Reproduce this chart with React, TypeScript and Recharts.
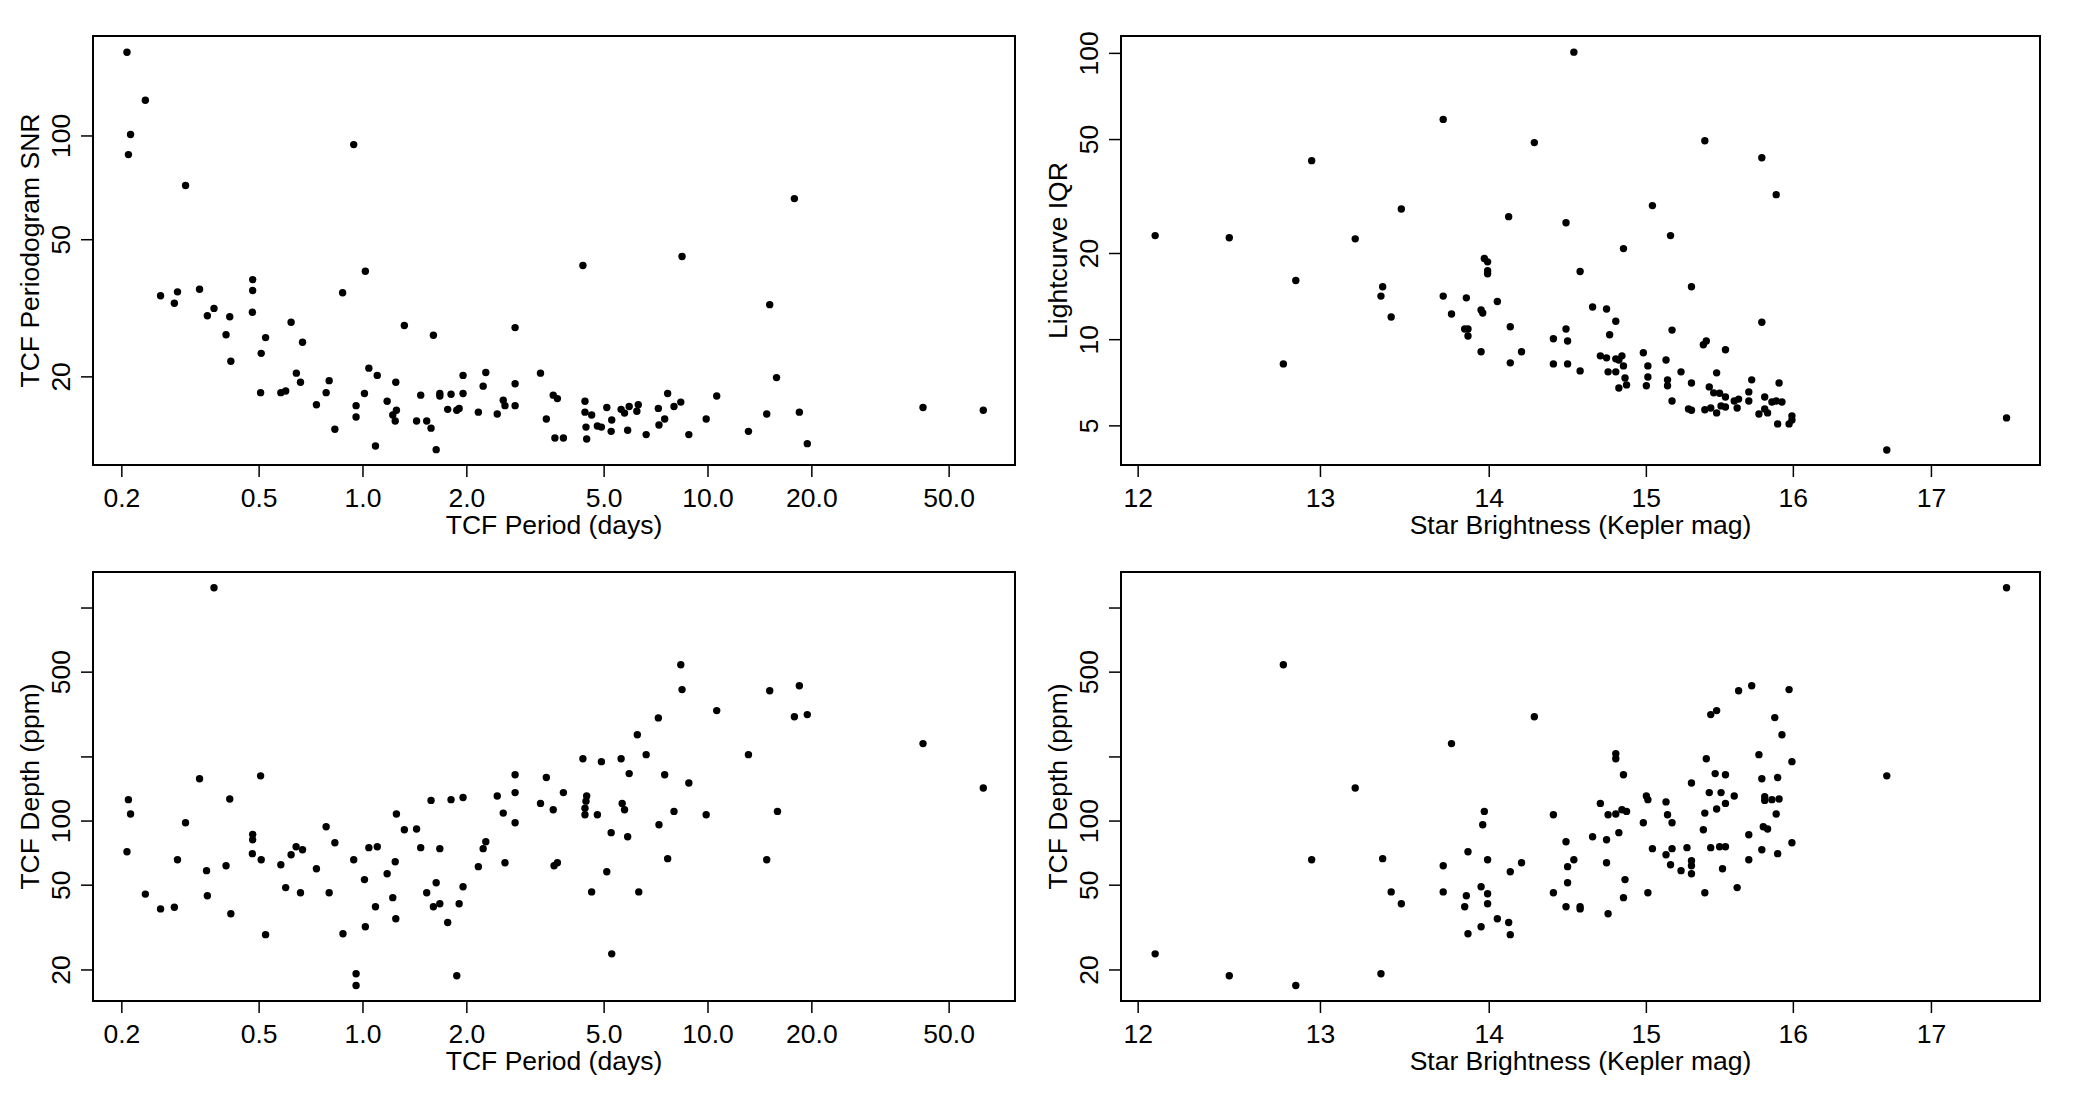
import React from "react";
import { ScatterChart, Scatter, XAxis, YAxis, ReferenceArea } from "recharts";

const FONT = '"Liberation Sans", Arial, Helvetica, sans-serif';
const FS = 26.5;

// [period (days), TCF periodogram SNR]
const snrByPeriod: [number, number][] = [
  [0.207, 175], [0.234, 127], [0.212, 101], [0.209, 88.3], [0.306, 71.8], [0.94, 94.4],
  [0.259, 34.4], [0.29, 35.3], [0.284, 32.7], [0.336, 35.9], [0.354, 30.1], [0.37, 31.6],
  [0.411, 29.9], [0.401, 26.5], [0.414, 22.2], [0.479, 38.3], [0.479, 35.6], [0.478, 30.8],
  [0.507, 23.4], [0.522, 26.0], [0.505, 18.0], [0.578, 18.0], [0.597, 18.2], [0.619, 28.8],
  [0.668, 25.2], [0.641, 20.5], [0.659, 19.3], [0.733, 16.6], [0.782, 18.0], [0.798, 19.5],
  [0.829, 14.1], [0.873, 35.1], [0.955, 16.5], [0.955, 15.3], [1.016, 40.5], [1.01, 17.9],
  [1.04, 21.2], [1.1, 20.2], [1.087, 12.6], [1.175, 17.0], [1.245, 19.3], [1.22, 15.5],
  [1.25, 16.0], [1.24, 14.9], [1.318, 28.2], [1.43, 14.9], [1.47, 17.7], [1.53, 14.9],
  [1.575, 14.2], [1.6, 26.4], [1.63, 12.3], [1.67, 17.9], [1.67, 17.6], [1.76, 16.1],
  [1.8, 17.8], [1.87, 16.0], [1.9, 16.2], [1.95, 20.2], [1.95, 17.9], [2.16, 15.8],
  [2.23, 18.8], [2.27, 20.6], [2.45, 15.6], [2.55, 17.1], [2.58, 16.5], [2.76, 27.8],
  [2.76, 19.1], [2.76, 16.5], [3.27, 20.5], [3.4, 15.1], [3.56, 17.7], [3.66, 17.3],
  [3.6, 13.3], [3.81, 13.3], [4.34, 42.1], [4.4, 17.0], [4.4, 15.8], [4.6, 15.5],
  [4.43, 14.3], [4.45, 13.2], [4.78, 14.4], [4.91, 14.3], [5.09, 16.3], [5.26, 15.0],
  [5.24, 13.9], [5.6, 16.1], [5.73, 15.7], [5.91, 16.4], [5.85, 14.0], [6.28, 16.6],
  [6.22, 15.9], [6.62, 13.6], [7.18, 16.2], [7.21, 14.5], [7.49, 15.1], [7.64, 17.9],
  [7.97, 16.4], [8.34, 16.9], [8.41, 44.7], [8.8, 13.6], [9.88, 15.1], [10.6, 17.6],
  [13.1, 13.9], [14.8, 15.6], [15.1, 32.4], [15.8, 19.9], [17.8, 65.8], [18.4, 15.8],
  [19.4, 12.8], [42.0, 16.3], [62.8, 16.0],
];

// [Kepler mag, lightcurve IQR]
const iqrByMag: [number, number][] = [
  [12.09, 23.1], [12.49, 22.7], [12.95, 42.2], [12.86, 16.1], [12.79, 8.23], [13.2, 22.5],
  [13.47, 28.6], [13.36, 15.3], [13.35, 14.2], [13.41, 12.0], [13.72, 58.8], [13.72, 14.2],
  [13.77, 12.3], [13.86, 14.0], [13.85, 10.9], [13.87, 10.9], [13.87, 10.3], [13.95, 9.07],
  [13.95, 12.7], [13.96, 12.4], [13.97, 19.2], [13.99, 18.7], [13.99, 17.4], [13.99, 17.0],
  [14.05, 13.6], [14.12, 26.9], [14.13, 11.1], [14.13, 8.3], [14.2, 9.07], [14.28, 48.8],
  [14.4, 10.07], [14.4, 8.23], [14.48, 25.6], [14.48, 10.9], [14.49, 9.9], [14.49, 8.23],
  [14.53, 101], [14.57, 7.78], [14.57, 17.3], [14.65, 13.0], [14.7, 8.78], [14.74, 12.8],
  [14.8, 11.6], [14.76, 10.4], [14.74, 8.64], [14.8, 8.57], [14.84, 8.78], [14.82, 8.49],
  [14.85, 8.1], [14.75, 7.72], [14.8, 7.72], [14.86, 7.35], [14.87, 6.95], [14.82, 6.78],
  [14.85, 20.8], [15.04, 29.4], [15.16, 23.1], [15.17, 10.8], [14.98, 9.0], [15.01, 8.1],
  [15.01, 7.41], [15.0, 6.9], [15.13, 8.49], [15.14, 7.24], [15.14, 6.9], [15.17, 6.11],
  [15.23, 7.72], [15.3, 15.3], [15.3, 7.06], [15.28, 5.73], [15.3, 5.67], [15.39, 49.5],
  [15.38, 9.6], [15.4, 9.9], [15.39, 5.69], [15.42, 6.84], [15.43, 5.77], [15.45, 6.52],
  [15.47, 7.66], [15.47, 5.55], [15.49, 6.5], [15.5, 5.87], [15.53, 6.31], [15.53, 5.82],
  [15.53, 9.22], [15.59, 6.11], [15.62, 6.2], [15.61, 5.77], [15.69, 6.57], [15.69, 6.11],
  [15.71, 7.24], [15.76, 5.5], [15.78, 43.2], [15.78, 11.5], [15.8, 6.31], [15.8, 5.73],
  [15.82, 5.55], [15.85, 6.06], [15.88, 32.1], [15.88, 6.11], [15.92, 6.06], [15.9, 7.06],
  [15.89, 5.08], [15.97, 5.08], [15.99, 5.24], [15.99, 5.42], [16.67, 4.12], [17.57, 5.33],
];

// [period (days), TCF depth (ppm)]
const depthByPeriod: [number, number][] = [
  [0.37, 1245], [0.209, 126], [0.212, 108], [0.207, 71.8], [0.234, 45.4], [0.259, 38.7],
  [0.284, 39.4], [0.29, 65.8], [0.306, 98.2], [0.336, 158], [0.352, 58.5], [0.354, 44.6],
  [0.401, 61.7], [0.411, 127], [0.414, 36.7], [0.479, 86.6], [0.479, 81.7], [0.478, 70.3],
  [0.507, 65.8], [0.505, 163], [0.522, 29.3], [0.578, 62.4], [0.597, 48.7], [0.619, 69.5],
  [0.64, 75.8], [0.668, 73.3], [0.659, 46.1], [0.733, 59.7], [0.782, 94.1], [0.798, 46.1],
  [0.829, 79.1], [0.875, 29.6], [0.94, 65.8], [0.955, 19.2], [0.955, 16.9], [1.01, 53.1],
  [1.016, 31.9], [1.04, 75.0], [1.1, 75.8], [1.087, 39.6], [1.175, 56.6], [1.24, 64.4],
  [1.22, 43.7], [1.245, 34.8], [1.25, 108], [1.318, 91.0], [1.43, 91.8], [1.47, 75.0],
  [1.53, 46.1], [1.575, 125], [1.6, 39.6], [1.63, 51.3], [1.67, 40.9], [1.67, 74.2],
  [1.76, 33.4], [1.8, 126], [1.87, 18.8], [1.9, 40.9], [1.95, 49.2], [1.95, 129],
  [2.16, 61.1], [2.23, 74.2], [2.27, 80.0], [2.45, 131], [2.55, 109], [2.58, 63.7],
  [2.76, 165], [2.76, 136], [2.76, 98.2], [3.27, 121], [3.4, 160], [3.56, 113],
  [3.58, 61.7], [3.66, 63.7], [3.81, 136], [4.34, 196], [4.45, 131], [4.43, 124],
  [4.4, 115], [4.4, 107], [4.78, 107], [4.91, 190], [4.6, 46.5], [5.09, 57.8],
  [5.24, 88.2], [5.26, 23.8], [5.6, 196], [5.64, 121], [5.73, 113], [5.85, 84.4],
  [5.91, 167], [6.24, 254], [6.3, 46.5], [6.62, 205], [7.18, 305], [7.21, 96.1],
  [7.49, 165], [7.64, 66.6], [7.97, 111], [8.34, 542], [8.41, 414], [8.8, 151],
  [9.88, 107], [10.6, 330], [13.1, 205], [14.8, 65.8], [15.1, 409], [15.9, 111],
  [17.8, 309], [18.4, 432], [19.4, 316], [42.0, 231], [62.8, 143],
];

// [Kepler mag, TCF depth (ppm)]
const depthByMag: [number, number][] = [
  [12.09, 23.8], [12.49, 18.8], [12.86, 16.9], [12.79, 542], [12.95, 65.8], [13.2, 143],
  [13.35, 19.2], [13.36, 66.6], [13.41, 46.5], [13.47, 40.9], [13.77, 231], [13.72, 61.7],
  [13.72, 46.5], [13.86, 44.6], [13.85, 39.6], [13.87, 71.8], [13.87, 29.6], [13.95, 49.2],
  [13.95, 31.9], [13.96, 96.1], [13.97, 111], [13.99, 65.8], [13.99, 45.6], [13.99, 40.9],
  [14.05, 34.8], [14.12, 33.4], [14.13, 29.3], [14.13, 57.8], [14.2, 63.7], [14.28, 309],
  [14.4, 107], [14.4, 46.1], [14.48, 80.0], [14.49, 61.1], [14.49, 51.3], [14.48, 39.6],
  [14.53, 65.8], [14.57, 39.6], [14.57, 38.7], [14.65, 84.4], [14.7, 121], [14.8, 207],
  [14.8, 196], [14.85, 165], [14.75, 107], [14.8, 108], [14.84, 113], [14.87, 111],
  [14.82, 88.2], [14.74, 81.7], [14.74, 63.7], [14.86, 53.1], [14.85, 43.7], [14.75, 36.7],
  [14.98, 98.2], [15.0, 131], [15.01, 126], [15.04, 74.2], [15.01, 46.1], [15.13, 123],
  [15.14, 107], [15.17, 98.2], [15.17, 74.2], [15.13, 69.5], [15.16, 62.4], [15.23, 58.5],
  [15.27, 75.0], [15.3, 65.1], [15.3, 61.7], [15.3, 56.6], [15.3, 151], [15.4, 196],
  [15.43, 316], [15.47, 330], [15.46, 167], [15.42, 136], [15.39, 109], [15.38, 91.0],
  [15.43, 75.0], [15.39, 46.1], [15.47, 114], [15.5, 136], [15.53, 165], [15.53, 121],
  [15.49, 75.8], [15.53, 75.8], [15.51, 59.7], [15.59, 131], [15.62, 409], [15.71, 432],
  [15.61, 48.7], [15.69, 86.3], [15.69, 65.8], [15.76, 205], [15.78, 158], [15.8, 130],
  [15.8, 125], [15.85, 126], [15.9, 127], [15.79, 94.1], [15.82, 91.8], [15.78, 73.3],
  [15.87, 306], [15.92, 254], [15.89, 160], [15.88, 108], [15.89, 70.3], [15.97, 414],
  [15.99, 190], [15.99, 79.1], [16.67, 163], [17.57, 1245],
];

const periodTicks = [0.2, 0.5, 1, 2, 5, 10, 20, 50];
const magTicks = [12, 13, 14, 15, 16, 17];
const snrTicks = [20, 50, 100];
const iqrTicks = [5, 10, 20, 50, 100];
const depthTicks = [20, 50, 100, 200, 500, 1000];
const depthLabelTicks = [20, 50, 100, 500];

const periodDomain: [number, number] = [0.165, 77.6];
const magDomain: [number, number] = [11.91, 17.83];
const snrDomain: [number, number] = [11.1, 195];
const iqrDomain: [number, number] = [3.65, 115];
const depthDomain: [number, number] = [14.3, 1476];

const Y_AXIS_W = 93;
const X_AXIS_H = 85;
const CHART_H = 550;

const txt = { fontFamily: FONT, fontSize: FS, fill: "#000" };

function XTick(props: any) {
  const { x, y, payload, fmt } = props;
  return (
    <text x={x} y={y + 19} textAnchor="middle" dominantBaseline="central" {...txt}>
      {fmt(payload.value)}
    </text>
  );
}

function YTick(props: any) {
  const { x, y, payload, show } = props;
  if (show && !show.includes(payload.value)) return <g />;
  const cx = x - 18;
  return (
    <text
      x={cx}
      y={y}
      transform={`rotate(-90 ${cx} ${y})`}
      textAnchor="middle"
      dominantBaseline="central"
      {...txt}
    >
      {String(payload.value)}
    </text>
  );
}

const xTitle = (text: string) => (p: any) => {
  const vb = p.viewBox ?? p;
  return (
    <text x={vb.x + vb.width / 2} y={vb.y + 60} textAnchor="middle" dominantBaseline="central" {...txt}>
      {text}
    </text>
  );
};

const yTitle = (text: string) => (p: any) => {
  const vb = p.viewBox ?? p;
  const cx = vb.x + vb.width - 63;
  const cy = vb.y + vb.height / 2;
  return (
    <text
      x={cx}
      y={cy}
      transform={`rotate(-90 ${cx} ${cy})`}
      textAnchor="middle"
      dominantBaseline="central"
      {...txt}
    >
      {text}
    </text>
  );
};

const Dot = (p: any) => <circle cx={p.cx} cy={p.cy} r={3.7} fill="#000" />;

type PanelProps = {
  left: number;
  top: number;
  plotW: number;
  data: [number, number][];
  xDomain: [number, number];
  yDomain: [number, number];
  xTicks: number[];
  yTicks: number[];
  yShow?: number[];
  xFmt: (v: number) => string;
  xLabel: string;
  yLabel: string;
};

function Panel(props: PanelProps) {
  const rows = props.data.map(([x, y]) => ({ x, y }));
  const width = Y_AXIS_W + props.plotW + 20;
  const tickLine = { stroke: "#000", strokeWidth: 1.5 };
  return (
    <div style={{ position: "absolute", left: props.left, top: props.top }}>
      <ScatterChart
        width={width}
        height={CHART_H}
        margin={{ top: 36, right: 20, left: 0, bottom: 0 }}
      >
        <XAxis
          dataKey="x"
          type="number"
          scale="log"
          domain={props.xDomain}
          ticks={props.xTicks}
          allowDataOverflow
          interval={0}
          height={X_AXIS_H}
          tickSize={12}
          tickLine={tickLine}
          axisLine={false}
          tick={<XTick fmt={props.xFmt} />}
          label={xTitle(props.xLabel)}
        />
        <YAxis
          dataKey="y"
          type="number"
          scale="log"
          domain={props.yDomain}
          ticks={props.yTicks}
          allowDataOverflow
          interval={0}
          width={Y_AXIS_W}
          tickSize={12}
          tickLine={tickLine}
          axisLine={false}
          tick={<YTick show={props.yShow} />}
          label={yTitle(props.yLabel)}
        />
        <ReferenceArea
          x1={props.xDomain[0]}
          x2={props.xDomain[1]}
          y1={props.yDomain[0]}
          y2={props.yDomain[1]}
          fill="none"
          stroke="#000"
          strokeWidth={2}
          ifOverflow="visible"
        />
        <Scatter data={rows} shape={Dot} isAnimationActive={false} />
      </ScatterChart>
    </div>
  );
}

const fmtPeriod = (v: number) => v.toFixed(1);
const fmtMag = (v: number) => String(v);

export default function App() {
  return (
    <div
      style={{
        position: "absolute",
        left: 0,
        top: 0,
        width: 2078,
        height: 1096,
        background: "#fff",
      }}
    >
      <Panel
        left={0}
        top={0}
        plotW={922}
        data={snrByPeriod}
        xDomain={periodDomain}
        yDomain={snrDomain}
        xTicks={periodTicks}
        yTicks={snrTicks}
        xFmt={fmtPeriod}
        xLabel="TCF Period (days)"
        yLabel="TCF Periodogram SNR"
      />
      <Panel
        left={1028}
        top={0}
        plotW={919}
        data={iqrByMag}
        xDomain={magDomain}
        yDomain={iqrDomain}
        xTicks={magTicks}
        yTicks={iqrTicks}
        xFmt={fmtMag}
        xLabel="Star Brightness (Kepler mag)"
        yLabel="Lightcurve IQR"
      />
      <Panel
        left={0}
        top={536}
        plotW={922}
        data={depthByPeriod}
        xDomain={periodDomain}
        yDomain={depthDomain}
        xTicks={periodTicks}
        yTicks={depthTicks}
        yShow={depthLabelTicks}
        xFmt={fmtPeriod}
        xLabel="TCF Period (days)"
        yLabel="TCF Depth (ppm)"
      />
      <Panel
        left={1028}
        top={536}
        plotW={919}
        data={depthByMag}
        xDomain={magDomain}
        yDomain={depthDomain}
        xTicks={magTicks}
        yTicks={depthTicks}
        yShow={depthLabelTicks}
        xFmt={fmtMag}
        xLabel="Star Brightness (Kepler mag)"
        yLabel="TCF Depth (ppm)"
      />
    </div>
  );
}
